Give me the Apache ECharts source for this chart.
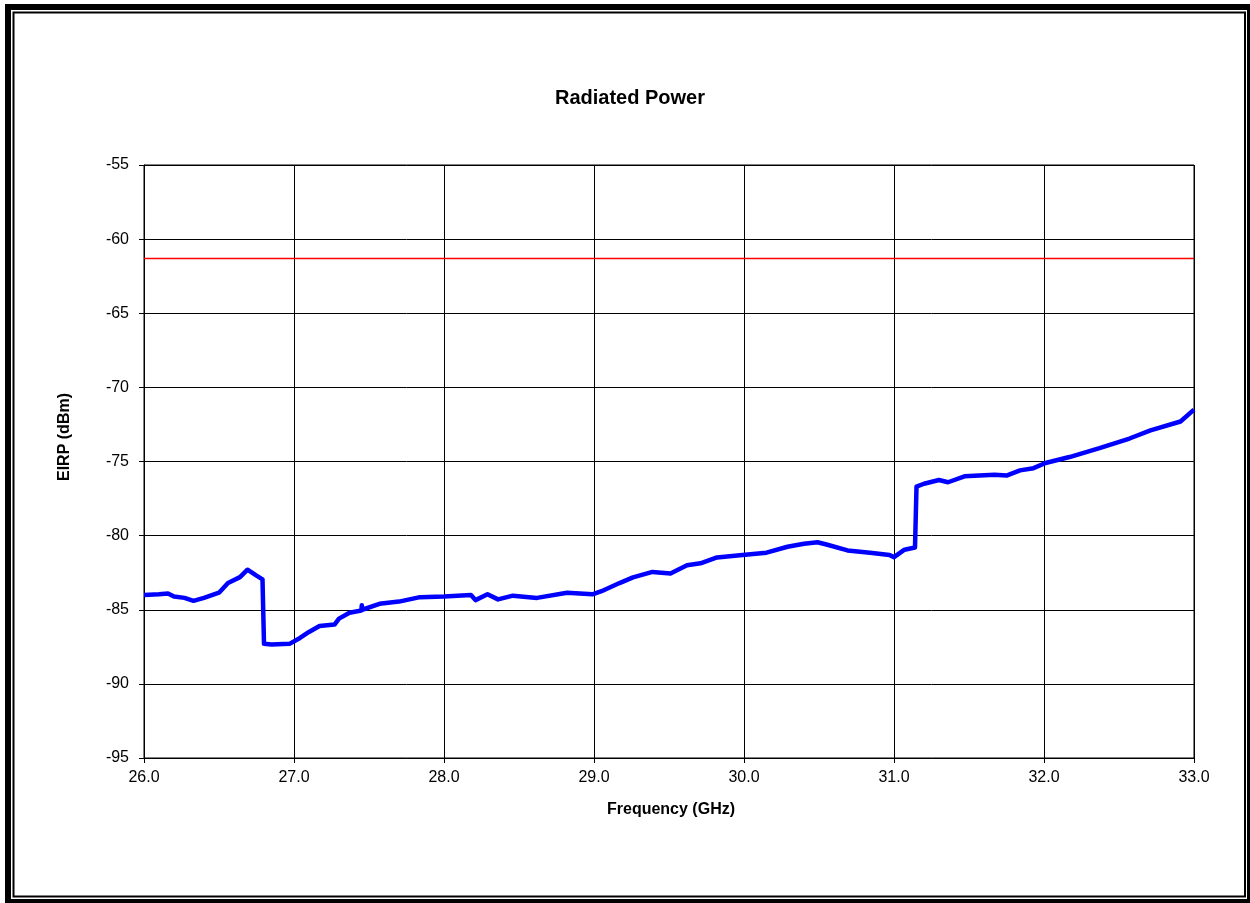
<!DOCTYPE html>
<html>
<head>
<meta charset="utf-8">
<script src="https://cdn.jsdelivr.net/npm/echarts@6/dist/echarts.min.js"></script>
<style>
  html, body { margin: 0; padding: 0; background: #fff; }
  #chart { width: 1250px; height: 903px; }
</style>
</head>
<body>
<div id="chart"></div>
<script>
// ---- Data ----
const titleText = 'Radiated Power';
const xAxisName = 'Frequency (GHz)';
const yAxisName = 'EIRP (dBm)';

const freqGHz = [
  26.00, 26.10, 26.16, 26.20, 26.27, 26.33, 26.40, 26.50, 26.56, 26.64, 26.69, 26.75, 26.79, 26.80,
  26.80, 26.85, 26.97, 27.04, 27.10, 27.17, 27.27, 27.30, 27.37, 27.449, 27.452, 27.455, 27.57, 27.70, 27.84,
  28.00, 28.18, 28.21, 28.29, 28.36, 28.46, 28.62, 28.82, 28.99, 29.05, 29.17, 29.26, 29.39, 29.51,
  29.62, 29.71, 29.82, 29.99, 30.15, 30.29, 30.40, 30.49, 30.55, 30.69, 30.84, 30.97, 31.00, 31.07,
  31.14, 31.15, 31.15, 31.20, 31.30, 31.36, 31.47, 31.67, 31.75, 31.84, 31.93, 32.01, 32.17, 32.37,
  32.57, 32.71, 32.91, 33.00
];
const eirpDbm = [
  -84.0, -83.95, -83.9, -84.1, -84.2, -84.4, -84.2, -83.85, -83.2, -82.8, -82.3, -82.7, -82.95, -83.0,
  -87.3, -87.35, -87.3, -86.9, -86.5, -86.1, -86.0, -85.6, -85.2, -85.05, -84.7, -85.0, -84.6, -84.45, -84.15,
  -84.1, -84.0, -84.35, -83.95, -84.3, -84.05, -84.2, -83.85, -83.96, -83.75, -83.2, -82.82, -82.45, -82.55,
  -82.0, -81.87, -81.47, -81.3, -81.15, -80.75, -80.55, -80.45, -80.6, -81.0, -81.15, -81.3, -81.45, -80.95,
  -80.8, -80.8, -76.7, -76.5, -76.25, -76.4, -76.0, -75.9, -75.95, -75.6, -75.45, -75.1, -74.7, -74.1,
  -73.45, -72.9, -72.3, -71.5
];
const limitFreq = [26.0, 33.0];
const limitDbm = [-61.3, -61.3];

const xMin = 26, xMax = 33, xStep = 1;
const yMin = -95, yMax = -55, yStep = 5;

// ---- Chart ----
const FONT = "'Liberation Sans', Arial, Helvetica, sans-serif";
const chart = echarts.init(document.getElementById('chart'), null, { renderer: 'canvas' });

const measured = freqGHz.map((f, i) => [f, eirpDbm[i]]);
const limit = limitFreq.map((f, i) => [f, limitDbm[i]]);

chart.setOption({
  animation: false,
  backgroundColor: '#ffffff',
  grid: {
    left: 144, right: 56, top: 165, bottom: 145,
    show: true, borderColor: '#000', borderWidth: 1, backgroundColor: 'transparent'
  },
  xAxis: {
    type: 'value', min: xMin, max: xMax, interval: xStep,
    axisLine: { show: true, onZero: false, lineStyle: { color: '#000', width: 1 } },
    axisTick: { show: true, inside: false, length: 5, lineStyle: { color: '#000' } },
    axisLabel: { color: '#000', fontSize: 16, fontFamily: FONT, margin: 12,
      formatter: v => v.toFixed(1) },
    splitLine: { show: true, lineStyle: { color: '#000', width: 1 } }
  },
  yAxis: {
    type: 'value', min: yMin, max: yMax, interval: yStep,
    axisLine: { show: true, onZero: false, lineStyle: { color: '#000', width: 1 } },
    axisTick: { show: true, inside: false, length: 5, lineStyle: { color: '#000' } },
    axisLabel: { color: '#000', fontSize: 16, fontFamily: FONT, margin: 15 },
    splitLine: { show: true, lineStyle: { color: '#000', width: 1 } }
  },
  series: [
    {
      name: 'Limit', type: 'line', data: limit, symbol: 'none',
      lineStyle: { color: '#ff0000', width: 1.5 }, z: 3, silent: true
    },
    {
      name: 'EIRP', type: 'line', data: measured, symbol: 'none',
      lineStyle: { color: '#0000ff', width: 4.5, join: 'round' }, z: 4, silent: true
    }
  ],
  graphic: [
    { type: 'rect', shape: { x: 8, y: 7, width: 1242, height: 895 },
      style: { fill: 'none', stroke: '#000', lineWidth: 6 }, silent: true },
    { type: 'rect', shape: { x: 13.5, y: 12.5, width: 1231.5, height: 884 },
      style: { fill: 'none', stroke: '#000', lineWidth: 2 }, silent: true },
    { type: 'text', x: 630, y: 98, silent: true,
      style: { text: titleText, font: 'bold 20px ' + FONT, fill: '#000',
        textAlign: 'center', textVerticalAlign: 'middle' } },
    { type: 'text', x: 671, y: 810, silent: true,
      style: { text: xAxisName, font: 'bold 16px ' + FONT, fill: '#000',
        textAlign: 'center', textVerticalAlign: 'middle' } },
    { type: 'text', x: 65, y: 437, rotation: Math.PI / 2, silent: true,
      style: { text: yAxisName, font: 'bold 16px ' + FONT, fill: '#000',
        textAlign: 'center', textVerticalAlign: 'middle' } }
  ]
});
</script>
</body>
</html>
